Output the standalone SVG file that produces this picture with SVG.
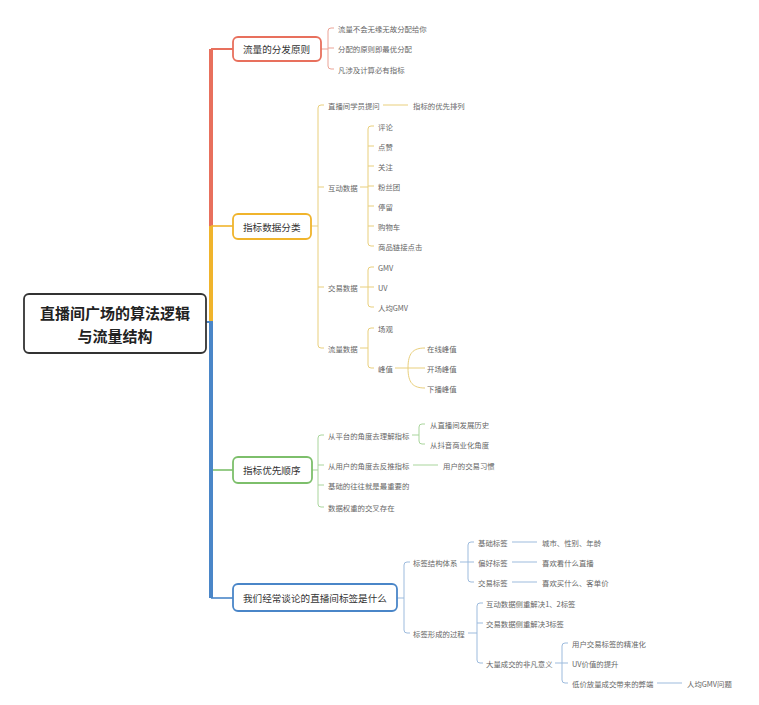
<svg xmlns="http://www.w3.org/2000/svg" width="759" height="705" viewBox="0 0 759 705">
<style>
text{font-family:"Noto Sans CJK SC","Noto Sans",sans-serif;dominant-baseline:central}
.s{font-size:7.4px;fill:#666}
.b{font-size:9.6px;fill:#333}
.r{font-size:15px;font-weight:bold;fill:#222;text-anchor:middle}
.box{fill:#fff;stroke-width:1.8}
.ln{fill:none;stroke-width:1}
.red{stroke:#eba396}.yel{stroke:#e9cf7c}.grn{stroke:#a9d59c}.blu{stroke:#9dbbdd}
.tr{fill:none;stroke-linejoin:round}
</style>
<rect width="759" height="705" fill="#fff"/>
<g id="connectors">
<path class="tr" d="M211,323 V49" stroke="#e8705d" stroke-width="4"/>
<path class="tr" d="M211,49 H233" stroke="#e8705d" stroke-width="2"/>
<path class="tr" d="M211,323 V226" stroke="#f0b42c" stroke-width="4"/>
<path class="tr" d="M211,226 H233" stroke="#f0b42c" stroke-width="1.6"/>
<path class="tr" d="M211,470 H233" stroke="#7dbf6b" stroke-width="1.6"/>
<path class="tr" d="M211,321 V598" stroke="#4a86c8" stroke-width="4"/>
<path class="tr" d="M211,598 H233" stroke="#4a86c8" stroke-width="1.6"/>
<path class="tr" d="M206,322 H211" stroke="#4a86c8" stroke-width="2"/>
<!-- branch 1 -->
<g class="ln red">
<path d="M321,49 H328 M334,28 H331 Q328,28 328,31 V66 Q328,69 331,69 H334 M328,48 H334"/>
</g>
<!-- branch 2 -->
<g class="ln yel">
<path d="M311,226 H318 M324,105 H321 Q318,105 318,108 V345 Q318,348 321,348 H324 M318,187 H324 M318,287 H324"/>
<path d="M383,105 H408"/>
<path d="M360,187 H368 M374,126 H371 Q368,126 368,129 V243 Q368,246 371,246 H374 M368,146 H374 M368,166 H374 M368,186 H374 M368,206 H374 M368,226 H374"/>
<path d="M360,287 H368 M374,267 H371 Q368,267 368,270 V304 Q368,307 371,307 H374 M368,287 H374"/>
<path d="M360,348 H368 M374,328 H371 Q368,328 368,331 V365 Q368,368 371,368 H374"/>
<path d="M395,368 H425 M408,368 C408,353 413,348 425,348 M408,368 C408,383 413,388 425,388"/>
</g>
<!-- branch 3 -->
<g class="ln grn">
<path d="M312,470 H318 M324,435 H321 Q318,435 318,438 V504 Q318,507 321,507 H324 M318,465 H324 M318,485 H324"/>
<path d="M412,435 H419 M425,424 H422 Q419,424 419,427 V441 Q419,444 422,444 H425"/>
<path d="M413,465 H438"/>
</g>
<!-- branch 4 -->
<g class="ln blu">
<path d="M397,598 H404 M410,562 H407 Q404,562 404,565 V630 Q404,633 407,633 H410"/>
<path d="M460,562 H468 M474,542 H471 Q468,542 468,545 V579 Q468,582 471,582 H474 M468,562 H474"/>
<path d="M512,542 H537 M512,562 H537 M512,582 H537"/>
<path d="M468,633 H477 M483,603 H480 Q477,603 477,606 V660 Q477,663 480,663 H483 M477,623 H483"/>
<path d="M555,663 H562 M568,643 H565 Q562,643 562,646 V680 Q562,683 565,683 H568 M562,663 H568"/>
<path d="M657,683 H682"/>
</g>
</g>
<g id="root">
<rect class="box" x="24" y="294" width="182" height="59" rx="5" stroke="#333" stroke-width="1.5"/>
<text class="r" x="115" y="312">直播间广场的算法逻辑</text>
<text class="r" x="115" y="335">与流量结构</text>
</g>
<g id="n1">
<rect class="box" x="233" y="37" width="88" height="24" rx="5" stroke="#e8705d"/>
<text class="b" x="243" y="49">流量的分发原则</text>
<text class="s" x="338" y="28">流量不会无缘无故分配给你</text>
<text class="s" x="338" y="48">分配的原则即最优分配</text>
<text class="s" x="338" y="69">凡涉及计算必有指标</text>
</g>
<g id="n2">
<rect class="box" x="233" y="214" width="78" height="25" rx="5" stroke="#f0b42c"/>
<text class="b" x="243" y="226.5">指标数据分类</text>
<text class="s" x="328" y="105">直播间学员提问</text>
<text class="s" x="413" y="105">指标的优先排列</text>
<text class="s" x="328" y="187">互动数据</text>
<text class="s" x="378" y="126">评论</text>
<text class="s" x="378" y="146">点赞</text>
<text class="s" x="378" y="166">关注</text>
<text class="s" x="378" y="186">粉丝团</text>
<text class="s" x="378" y="206">停留</text>
<text class="s" x="378" y="226">购物车</text>
<text class="s" x="378" y="246">商品链接点击</text>
<text class="s" x="328" y="287">交易数据</text>
<text class="s" x="378" y="267">GMV</text>
<text class="s" x="378" y="287">UV</text>
<text class="s" x="378" y="307">人均GMV</text>
<text class="s" x="328" y="348">流量数据</text>
<text class="s" x="378" y="328">场观</text>
<text class="s" x="378" y="368">峰值</text>
<text class="s" x="427" y="348">在线峰值</text>
<text class="s" x="427" y="368">开场峰值</text>
<text class="s" x="427" y="388">下播峰值</text>
</g>
<g id="n3">
<rect class="box" x="233" y="457" width="79" height="26" rx="5" stroke="#7dbf6b"/>
<text class="b" x="243" y="470">指标优先顺序</text>
<text class="s" x="328" y="435">从平台的角度去理解指标</text>
<text class="s" x="430" y="424">从直播间发展历史</text>
<text class="s" x="430" y="444">从抖音商业化角度</text>
<text class="s" x="328" y="465">从用户的角度去反推指标</text>
<text class="s" x="443" y="465">用户的交易习惯</text>
<text class="s" x="328" y="485">基础的往往就是最重要的</text>
<text class="s" x="328" y="507">数据权重的交叉存在</text>
</g>
<g id="n4">
<rect class="box" x="233" y="584" width="164" height="27" rx="5" stroke="#4a86c8"/>
<text class="b" x="243" y="597.5">我们经常谈论的直播间标签是什么</text>
<text class="s" x="413" y="562">标签结构体系</text>
<text class="s" x="478" y="542">基础标签</text>
<text class="s" x="478" y="562">偏好标签</text>
<text class="s" x="478" y="582">交易标签</text>
<text class="s" x="542" y="542">城市、性别、年龄</text>
<text class="s" x="542" y="562">喜欢看什么直播</text>
<text class="s" x="542" y="582">喜欢买什么、客单价</text>
<text class="s" x="413" y="633">标签形成的过程</text>
<text class="s" x="486" y="603">互动数据侧重解决1、2标签</text>
<text class="s" x="486" y="623">交易数据侧重解决3标签</text>
<text class="s" x="486" y="663">大量成交的非凡意义</text>
<text class="s" x="572" y="643">用户交易标签的精准化</text>
<text class="s" x="572" y="663">UV价值的提升</text>
<text class="s" x="572" y="683">低价放量成交带来的弊端</text>
<text class="s" x="687" y="683">人均GMV问题</text>
</g>
</svg>
